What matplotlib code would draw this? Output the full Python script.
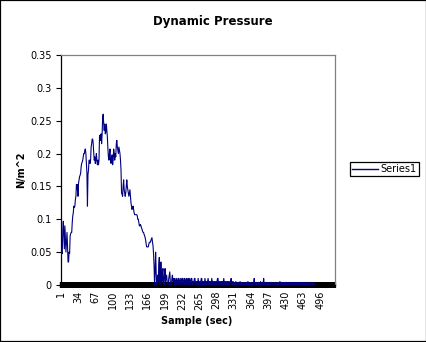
import numpy as np
import matplotlib
matplotlib.use("Agg")
import matplotlib.pyplot as plt
from matplotlib.lines import Line2D
from matplotlib.patches import Rectangle

# dynamic pressure, one reading per sample (N/m^2)
pressure = [
    # 1-20
    0.045, 0.042, 0.05, 0.048, 0.085, 0.097, 0.075, 0.055, 0.09, 0.07,
    0.05, 0.065, 0.08, 0.06, 0.035, 0.035, 0.05, 0.048, 0.075, 0.078,
    # 21-40
    0.08, 0.08, 0.095, 0.105, 0.11, 0.12, 0.118, 0.12, 0.13, 0.135,
    0.153, 0.145, 0.153, 0.135, 0.155, 0.16, 0.165, 0.167, 0.17, 0.18,
    # 41-60
    0.185, 0.187, 0.19, 0.195, 0.2, 0.2, 0.205, 0.207, 0.2, 0.185,
    0.17, 0.12, 0.168, 0.175, 0.19, 0.19, 0.185, 0.19, 0.21, 0.215,
    # 61-80
    0.222, 0.222, 0.215, 0.2, 0.19, 0.195, 0.185, 0.19, 0.2, 0.19,
    0.183, 0.19, 0.183, 0.19, 0.225, 0.228, 0.22, 0.23, 0.215, 0.23,
    # 81-100
    0.255, 0.26, 0.245, 0.235, 0.245, 0.23, 0.233, 0.245, 0.235, 0.225,
    0.207, 0.195, 0.19, 0.2, 0.207, 0.19, 0.185, 0.19, 0.198, 0.183,
    # 101-120
    0.19, 0.207, 0.2, 0.19, 0.2, 0.195, 0.215, 0.22, 0.21, 0.205,
    0.2, 0.21, 0.205, 0.2, 0.19, 0.175, 0.14, 0.138, 0.135, 0.15,
    # 121-140
    0.16, 0.145, 0.14, 0.135, 0.14, 0.15, 0.16, 0.15, 0.145, 0.14,
    0.135, 0.14, 0.145, 0.135, 0.125, 0.12, 0.115, 0.118, 0.12, 0.115,
    # 141-160
    0.11, 0.107, 0.107, 0.107, 0.107, 0.107, 0.105, 0.1, 0.1, 0.095,
    0.09, 0.09, 0.092, 0.09, 0.087, 0.085, 0.082, 0.08, 0.08, 0.077,
    # 161-180
    0.075, 0.072, 0.068, 0.062, 0.058, 0.058, 0.058, 0.058, 0.062, 0.065,
    0.065, 0.065, 0.068, 0.07, 0.072, 0.065, 0.06, 0.048, 0.03, 0.0,
    # 181-200
    0.02, 0.05, 0.02, 0.0, 0.005, 0.015, 0.005, 0.03, 0.042, 0.0,
    0.01, 0.035, 0.015, 0.005, 0.02, 0.025, 0.005, 0.0, 0.015, 0.025,
    # 201-220
    0.005, 0.01, 0.015, 0.005, 0.0, 0.0, 0.01, 0.015, 0.02, 0.005,
    0.0, 0.0, 0.01, 0.015, 0.005, 0.005, 0.01, 0.0, 0.01, 0.005,
    # 221-240
    0.0, 0.01, 0.005, 0.0, 0.01, 0.01, 0.0, 0.005, 0.01, 0.0,
    0.005, 0.01, 0.01, 0.0, 0.005, 0.01, 0.0, 0.01, 0.005, 0.0,
    # 241-260
    0.01, 0.005, 0.0, 0.01, 0.0, 0.005, 0.01, 0.0, 0.005, 0.01,
    0.01, 0.0, 0.005, 0.0, 0.005, 0.01, 0.01, 0.0, 0.005, 0.0,
    # 261-280
    0.005, 0.0, 0.01, 0.005, 0.0, 0.005, 0.0, 0.005, 0.01, 0.01,
    0.0, 0.005, 0.0, 0.005, 0.0, 0.01, 0.005, 0.0, 0.005, 0.0,
    # 281-300
    0.005, 0.01, 0.005, 0.0, 0.005, 0.0, 0.005, 0.0, 0.01, 0.005,
    0.0, 0.005, 0.0, 0.005, 0.0, 0.005, 0.0, 0.005, 0.005, 0.01,
    # 301-320
    0.01, 0.0, 0.005, 0.0, 0.005, 0.0, 0.005, 0.0, 0.005, 0.0,
    0.005, 0.01, 0.0, 0.005, 0.0, 0.005, 0.0, 0.005, 0.0, 0.005,
    # 321-340
    0.0, 0.005, 0.0, 0.005, 0.005, 0.01, 0.0, 0.005, 0.0, 0.005,
    0.004, 0.0, 0.003, 0.0, 0.005, 0.0, 0.003, 0.001, 0.004, 0.0,
    # 341-360
    0.003, 0.0, 0.005, 0.0, 0.002, 0.004, 0.0, 0.003, 0.0, 0.004,
    0.0, 0.003, 0.0, 0.004, 0.001, 0.003, 0.0, 0.005, 0.0, 0.003,
    # 361-380
    0.0, 0.004, 0.0, 0.002, 0.004, 0.0, 0.003, 0.0, 0.004, 0.01,
    0.0, 0.003, 0.0, 0.004, 0.0, 0.003, 0.001, 0.004, 0.0, 0.003,
    # 381-400
    0.0, 0.005, 0.0, 0.003, 0.0, 0.004, 0.002, 0.01, 0.0, 0.003,
    0.0, 0.004, 0.0, 0.003, 0.001, 0.004, 0.0, 0.003, 0.0, 0.004,
    # 401-420
    0.0, 0.002, 0.004, 0.0, 0.003, 0.0, 0.004, 0.0, 0.003, 0.0,
    0.004, 0.001, 0.003, 0.0, 0.004, 0.0, 0.003, 0.0, 0.005, 0.0,
    # 421-440
    0.003, 0.0, 0.004, 0.001, 0.003, 0.0, 0.004, 0.0, 0.003, 0.0,
    0.004, 0.0, 0.003, 0.0, 0.004, 0.002, 0.003, 0.0, 0.004, 0.0,
    # 441-460
    0.003, 0.0, 0.004, 0.0, 0.003, 0.001, 0.004, 0.0, 0.003, 0.0,
    0.004, 0.0, 0.003, 0.0, 0.004, 0.0, 0.003, 0.001, 0.004, 0.0,
    # 461-486
    0.003, 0.0, 0.004, 0.0, 0.003, 0.0, 0.004, 0.001, 0.003, 0.0,
    0.004, 0.0, 0.003, 0.0, 0.004, 0.0, 0.003, 0.0, 0.004, 0.001,
    0.003, 0.0, 0.004, 0.0, 0.003, 0.0,
]

n_categories = 524
samples = np.arange(1, n_categories + 1)
x_labels = [1, 34, 67, 100, 133, 166, 199, 232, 265, 298, 331, 364, 397, 430, 463, 496]
y_ticks = [0, 0.05, 0.1, 0.15, 0.2, 0.25, 0.3, 0.35]
y_labels = ["0", "0.05", "0.1", "0.15", "0.2", "0.25", "0.3", "0.35"]

fig = plt.figure(figsize=(4.27, 3.42), dpi=100)
ax = fig.add_axes([60.7 / 427, 57 / 342, 274.3 / 427, 230 / 342])

line, = ax.plot(samples[:len(pressure)], pressure, color="#000080", lw=0.8, zorder=3)

ax.set_xlim(1, n_categories)
ax.set_ylim(0, 0.35)

# category axis: a tick on every sample, labels every 33
ax.set_xticks(x_labels)
ax.set_xticklabels([str(v) for v in x_labels], rotation=90, fontsize=7)
ax.set_xticks(samples, minor=True)
ax.tick_params(axis="x", which="both", direction="inout", length=4.5,
               width=1.6, color="black", pad=2)

ax.set_yticks(y_ticks)
ax.set_yticklabels(y_labels, fontsize=7)
ax.tick_params(axis="y", direction="out", length=3.6, width=0.8, pad=3)

ax.spines["left"].set_color("black")
ax.spines["bottom"].set_color("black")
ax.spines["top"].set_color("#808080")
ax.spines["right"].set_color("#808080")
for s in ax.spines.values():
    s.set_linewidth(0.9)

fig.text(213 / 427, 1 - 21.5 / 342, "Dynamic Pressure", ha="center", va="center",
         fontsize=8.5, fontweight="bold")
fig.text(197 / 427, 1 - 321.5 / 342, "Sample (sec)", ha="center", va="center",
         fontsize=7, fontweight="bold")
fig.text(21 / 427, 1 - 170 / 342, "N/m^2", ha="center", va="center",
         rotation=90, fontsize=7, fontweight="bold")

handle = Line2D([], [], color="#000080", lw=1.0)
leg = fig.legend([handle], ["Series1"], loc="center",
                 bbox_to_anchor=(384.5 / 427, 1 - 169 / 342),
                 fontsize=7, frameon=True, fancybox=False, framealpha=1,
                 handlelength=2.6, handletextpad=0.3, borderpad=0.25,
                 borderaxespad=0)
leg.get_frame().set_edgecolor("black")
leg.get_frame().set_linewidth(0.9)

fig.patches.append(Rectangle((0, 0), 1, 1, transform=fig.transFigure,
                             fill=False, edgecolor="black", lw=1.6))

fig.savefig("out.png", dpi=100)
